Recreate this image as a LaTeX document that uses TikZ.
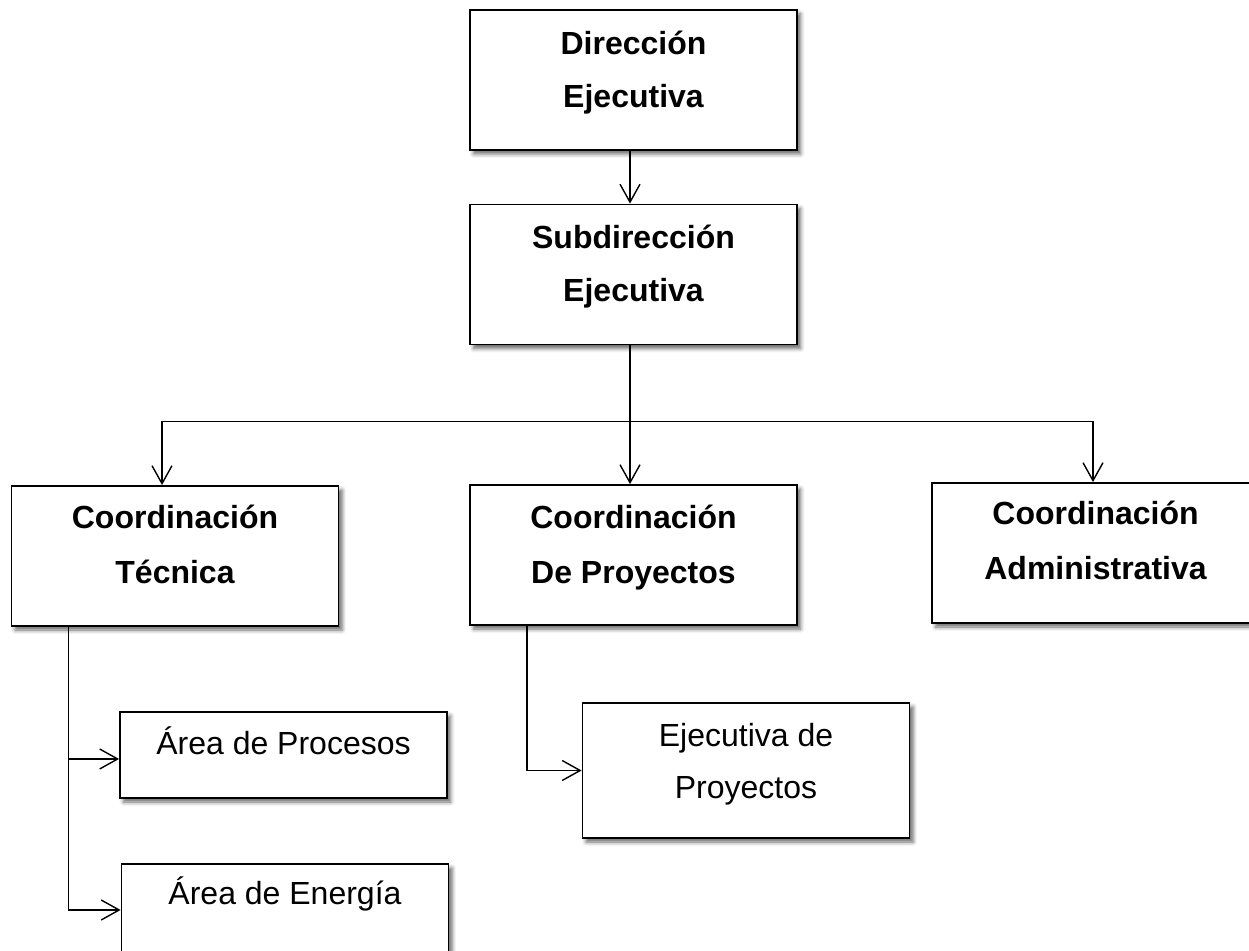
\documentclass[tikz,border=0pt]{standalone}
\usepackage{fontspec}
\setmainfont{Liberation Sans}
\usetikzlibrary{calc,arrows.meta,shadows.blur}

\tikzset{
	orgbox/.style={draw, line width=0.9pt, fill=white, inner sep=0pt, minimum width=163.5pt,
		blur shadow={shadow xshift=1.8pt, shadow yshift=-2pt, shadow blur radius=2pt, shadow opacity=60}},
	lbl/.style={inner sep=0pt, anchor=base, font=\fontsize{16}{27}\selectfont},
	blbl/.style={lbl, font=\fontsize{16}{27}\selectfont\bfseries},
	link/.style={line width=0.7pt, -{Straight Barb[length=9pt, width=10pt]}}
}

\begin{document}
\begin{tikzpicture}[x=0.5pt, y=-0.5pt]
			%%%%% START %%%%%
			\useasboundingbox (0, 0) rectangle (1249, 951);
			
			\node[orgbox, minimum height=70pt] (dir) at (633.5, 80) {};
			\node[blbl] (dirA) at ($(dir.north)+(0, 45)$) {Dirección};
			\node[blbl] (dirB) at ($(dir.north)+(0, 98)$) {Ejecutiva};
			
			\node[orgbox, minimum height=70pt] (sub) at (633.5, 274.5) {};
			\node[blbl] (subA) at ($(sub.north)+(0, 45)$) {Subdirección};
			\node[blbl] (subB) at ($(sub.north)+(0, 98)$) {Ejecutiva};
			
			\node[orgbox, minimum height=70pt] (tec) at (175, 556) {};
			\node[blbl] (tecA) at ($(tec.north)+(0, 43)$) {Coordinación};
			\node[blbl] (tecB) at ($(tec.north)+(0, 98)$) {Técnica};
			
			\node[orgbox, minimum height=70pt] (pro) at (633.5, 555) {};
			\node[blbl] (proA) at ($(pro.north)+(0, 44)$) {Coordinación};
			\node[blbl] (proB) at ($(pro.north)+(0, 99)$) {De Proyectos};
			
			\node[orgbox, minimum height=70pt] (adm) at (1095.5, 553) {};
			\node[blbl] (admA) at ($(adm.north)+(0, 42)$) {Coordinación};
			\node[blbl] (admB) at ($(adm.north)+(0, 97)$) {Administrativa};
			
			\node[orgbox, minimum height=43pt] (proc) at (283.5, 755) {};
			\node[lbl] (procA) at ($(proc.north)+(0, 43)$) {Área de Procesos};
			
			\node[orgbox, minimum height=46pt] (ener) at (285, 910) {};
			\node[lbl] (enerA) at ($(ener.north)+(0, 41)$) {Área de Energía};
			
			\node[orgbox, minimum height=67.5pt] (ejec) at (746, 770.5) {};
			\node[lbl] (ejecA) at ($(ejec.north)+(0, 44)$) {Ejecutiva de};
			\node[lbl] (ejecB) at ($(ejec.north)+(0, 96)$) {Proyectos};
			
			%%%%% LINKS %%%%%
			\draw[link] ([xshift=-1.75pt]dir.south) -- ([xshift=-1.75pt]sub.north);
			\draw[link] ([xshift=-1.75pt]sub.south) -- ([xshift=-1.75pt]pro.north);
			\coordinate (split) at ($([xshift=-1.75pt]sub.south)+(0, 76)$);
			\draw[link] (split) -| ([xshift=-6.5pt]tec.north);
			\draw[link] (split) -| ([xshift=-1.25pt]adm.north);
			
			\draw[link] ([xshift=29pt]tec.south west) |- ([yshift=-2pt]proc.west);
			\draw[link] ([xshift=29pt]tec.south west) |- (ener.west);
			\draw[link] ([xshift=29pt]pro.south west) |- (ejec.west);
			%%%%% END %%%%%
\end{tikzpicture}
\end{document}
